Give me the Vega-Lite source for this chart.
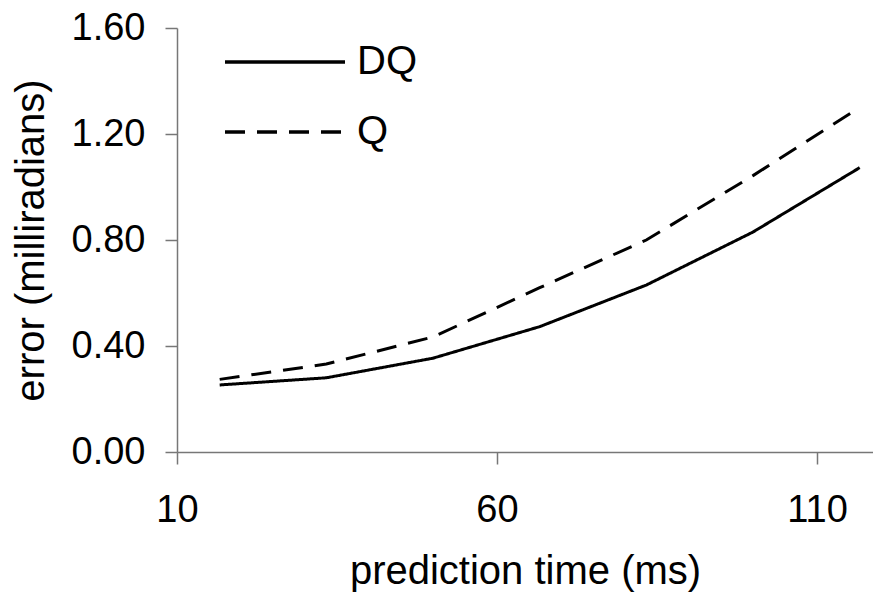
{
  "$schema": "https://vega.github.io/schema/vega-lite/v6.json",
  "width": 696,
  "height": 424,
  "autosize": {"type": "none"},
  "padding": {"left": 177, "top": 28, "right": 0, "bottom": 146},
  "background": "white",
  "config": {
    "view": {"stroke": null},
    "font": "Liberation Sans",
    "axis": {"grid": false, "domainColor": "#777777", "tickColor": "#777777", "domainWidth": 1.5, "tickWidth": 1.5, "labelColor": "black", "titleColor": "black", "labelFont": "Liberation Sans", "titleFont": "Liberation Sans", "titleFontWeight": "normal"}
  },
  "data": {
    "values": [
      {"t": 16.67, "err": 0.253, "series": "DQ"},
      {"t": 33.33, "err": 0.28, "series": "DQ"},
      {"t": 50, "err": 0.354, "series": "DQ"},
      {"t": 66.67, "err": 0.473, "series": "DQ"},
      {"t": 83.33, "err": 0.63, "series": "DQ"},
      {"t": 100, "err": 0.83, "series": "DQ"},
      {"t": 116.67, "err": 1.073, "series": "DQ"},
      {"t": 16.67, "err": 0.274, "series": "Q"},
      {"t": 33.33, "err": 0.332, "series": "Q"},
      {"t": 50, "err": 0.434, "series": "Q"},
      {"t": 66.67, "err": 0.62, "series": "Q"},
      {"t": 83.33, "err": 0.80, "series": "Q"},
      {"t": 100, "err": 1.043, "series": "Q"},
      {"t": 116.67, "err": 1.30, "series": "Q"}
    ]
  },
  "mark": {"type": "line", "color": "black", "strokeWidth": 3, "clip": false},
  "encoding": {
    "x": {
      "field": "t", "type": "quantitative",
      "scale": {"domain": [10, 118.75], "nice": false, "zero": false},
      "axis": {"values": [10, 60, 110], "title": "prediction time (ms)", "labelFontSize": 38, "titleFontSize": 40, "tickSize": 12, "labelPadding": 27, "titlePadding": 22, "labelFlush": false}
    },
    "y": {
      "field": "err", "type": "quantitative",
      "scale": {"domain": [0, 1.6], "nice": false},
      "axis": {"values": [0, 0.4, 0.8, 1.2, 1.6], "format": ".2f", "title": "error (milliradians)", "labelFontSize": 38, "titleFontSize": 40, "tickSize": 12, "labelPadding": 20, "titlePadding": 20}
    },
    "strokeDash": {
      "field": "series", "type": "nominal",
      "scale": {"domain": ["DQ", "Q"], "range": [[1, 0], [20, 12]]},
      "legend": {
        "title": null, "orient": "none", "legendX": 46, "legendY": 14,
        "symbolType": "stroke", "symbolSize": 14400, "symbolStrokeWidth": 3.5, "symbolStrokeColor": "black",
        "labelFontSize": 40, "labelFont": "Liberation Sans", "labelColor": "black", "labelOffset": 10,
        "clipHeight": 40, "rowPadding": 30
      }
    }
  }
}
